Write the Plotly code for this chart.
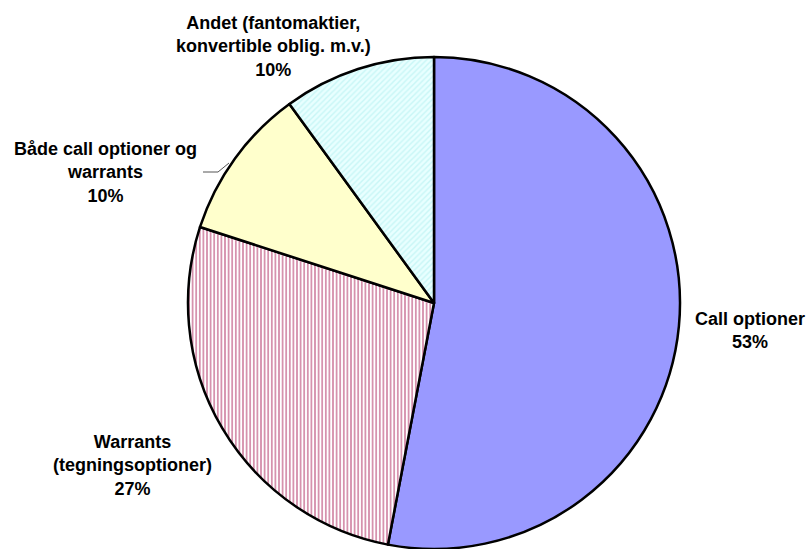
import plotly.graph_objects as go

# Shares of incentive-program types (percent)
categories = [
    "Call optioner",
    "Warrants<br>(tegningsoptioner)",
    "Både call optioner og<br>warrants",
    "Andet (fantomaktier,<br>konvertible oblig. m.v.)",
]
shares = [53, 27, 10, 10]

fill_colors = ["#9999FF", "#FFFFFF", "#FFFFCC", "#E8FFFF"]
pattern_shapes = ["", "|", "", "/"]
pattern_fg = ["#9999FF", "#CC7799", "#FFFFCC", "#C8F6F6"]

W, H = 808, 549

fig = go.Figure(
    go.Pie(
        labels=categories,
        values=shares,
        sort=False,
        direction="clockwise",
        rotation=0,
        textinfo="none",
        hoverinfo="skip",
        showlegend=False,
        marker=dict(
            colors=fill_colors,
            line=dict(color="black", width=2.5),
            pattern=dict(
                shape=pattern_shapes,
                fgcolor=pattern_fg,
                bgcolor=fill_colors,
                size=[4, 3.6, 4, 4],
                solidity=[0.3, 0.4, 0.3, 0.35],
            ),
        ),
        domain=dict(x=[188 / W, 680 / W], y=[0, 492 / H]),
    )
)

# Outside labels (category name plus percentage), placed in paper coordinates
label_pos = [(750, 330), (132, 465), (105, 172), (273, 47)]
for cat, val, (px, py) in zip(categories, shares, label_pos):
    fig.add_annotation(
        x=px / W,
        y=1 - py / H,
        xref="paper",
        yref="paper",
        text=f"<b>{cat}<br>{val}%</b>",
        showarrow=False,
        xanchor="center",
        yanchor="middle",
        align="center",
        font=dict(family="Liberation Sans, Arial, sans-serif", size=18, color="black"),
    )

# Leader line for the small "Både" slice
fig.add_shape(
    type="path",
    xref="paper",
    yref="paper",
    path=f"M {203/W},{1-172/H} L {218/W},{1-172/H} L {229/W},{1-163/H}",
    line=dict(color="#555555", width=1),
)

fig.update_layout(
    width=W,
    height=H,
    margin=dict(l=0, r=0, t=0, b=0),
    paper_bgcolor="white",
    plot_bgcolor="white",
)

fig.write_html("out.html")
